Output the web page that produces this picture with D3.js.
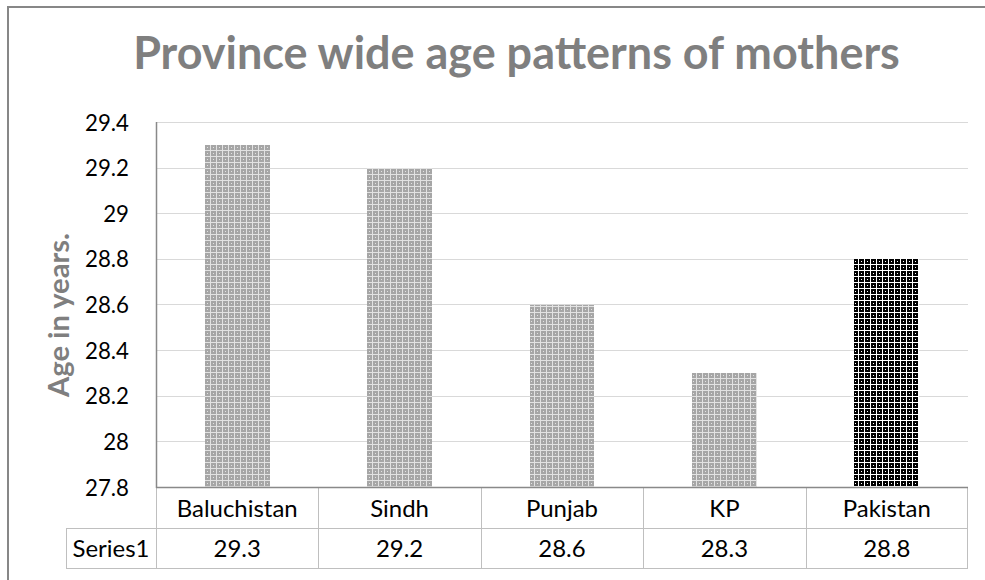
<!DOCTYPE html>
<html>
<head>
<meta charset="utf-8">
<script src="https://cdn.jsdelivr.net/npm/d3@7"></script>
<style>
  html, body { margin: 0; padding: 0; background: #fff; }
  svg { display: block; }
  text { font-family: Lato, "Open Sans", sans-serif; }
</style>
</head>
<body>
<svg id="chart" width="985" height="580"></svg>
<script>
const titleText = "Province wide age patterns of mothers";
const yAxisTitle = "Age in years.";
const seriesName = "Series1";
const categories = ["Baluchistan", "Sindh", "Punjab", "KP", "Pakistan"];
const values = [29.3, 29.2, 28.6, 28.3, 28.8];
const valueLabels = ["29.3", "29.2", "28.6", "28.3", "28.8"];
const tickValues = [27.8, 28, 28.2, 28.4, 28.6, 28.8, 29, 29.2, 29.4];
const tickLabels = ["27.8", "28", "28.2", "28.4", "28.6", "28.8", "29", "29.2", "29.4"];
const highlighted = ["Pakistan"];

const svg = d3.select("#chart");
const plot = { left: 156, right: 968, top: 122, bottom: 487 };
const table = { left: 66, row1: 528, row2: 568 };

// patterns
const defs = svg.append("defs");
function makePattern(id, bg, fg) {
  const p = defs.append("pattern").attr("id", id)
    .attr("patternUnits", "userSpaceOnUse").attr("width", 6).attr("height", 6);
  p.append("rect").attr("width", 6).attr("height", 6).attr("fill", bg);
  p.append("rect").attr("x", 0).attr("y", 0).attr("width", 6).attr("height", 1).attr("fill", fg);
  p.append("rect").attr("x", 0).attr("y", 0).attr("width", 1).attr("height", 6).attr("fill", fg);
  p.append("rect").attr("x", 3).attr("y", 3).attr("width", 1).attr("height", 1).attr("fill", fg);
  p.attr("shape-rendering", "crispEdges");
}
makePattern("patLight", "#a6a6a6", "#e2e2e2");
makePattern("patDark", "#000", "#ffffff");

// outer border (extends beyond the visible area)
svg.append("rect").attr("x", 8).attr("y", 7).attr("width", 1100).attr("height", 700)
  .attr("fill", "none").attr("stroke", "#878787").attr("stroke-width", 2);

const x = d3.scaleBand().domain(categories).range([plot.left, plot.right])
  .paddingInner(0.6).paddingOuter(0.3);
const step = x.step();
const y = d3.scaleLinear().domain([tickValues[0], tickValues[tickValues.length - 1]])
  .range([plot.bottom, plot.top]);

function fit(sel, target) {
  const w = sel.node().getComputedTextLength();
  const fs = parseFloat(sel.attr("font-size"));
  sel.attr("font-size", fs * target / w);
  return fs * target / w;
}

// gridlines
svg.append("g").selectAll("line").data(tickValues.slice(1)).join("line")
  .attr("x1", plot.left).attr("x2", plot.right)
  .attr("y1", d => Math.round(y(d)) + 0.5).attr("y2", d => Math.round(y(d)) + 0.5)
  .attr("stroke", "#d9d9d9").attr("stroke-width", 1);

// y axis labels via d3 axis
const yAxis = d3.axisLeft(y).tickValues(tickValues)
  .tickFormat((d, i) => tickLabels[i]).tickSize(0).tickPadding(0);
const gy = svg.append("g").attr("transform", `translate(129,0)`).call(yAxis);
gy.select(".domain").remove();
gy.selectAll("text").attr("font-size", 24).attr("fill", "#000")
  .attr("font-family", "Lato, 'Open Sans', sans-serif").attr("dy", "0.36em");
const tickFs = fit(gy.selectAll("text").filter((d, i) => i === tickValues.length - 1), 44);
gy.selectAll("text").attr("font-size", tickFs);

// bars
svg.append("g").selectAll("rect").data(categories).join("rect")
  .attr("x", d => x(d)).attr("width", x.bandwidth())
  .attr("y", (d, i) => y(values[i])).attr("height", (d, i) => y(tickValues[0]) - y(values[i]))
  .attr("fill", d => highlighted.includes(d) ? "url(#patDark)" : "url(#patLight)")
  .attr("shape-rendering", "crispEdges");

// table lines
const tl = svg.append("g").attr("stroke", "#bfbfbf").attr("stroke-width", 1).attr("shape-rendering", "crispEdges");
[table.row1, table.row2].forEach(yy => {
  tl.append("line").attr("x1", table.left).attr("x2", plot.right).attr("y1", yy + 0.5).attr("y2", yy + 0.5);
});
tl.append("line").attr("x1", table.left + 0.5).attr("x2", table.left + 0.5).attr("y1", table.row1).attr("y2", table.row2);
d3.range(categories.length + 1).forEach(i => {
  const xx = Math.round(plot.left + i * step) - (i === categories.length ? 1 : 0) + 0.5;
  tl.append("line").attr("x1", xx).attr("x2", xx).attr("y1", plot.bottom).attr("y2", table.row2 + 1);
});

// axes lines
svg.append("line").attr("x1", plot.left + 0.5).attr("x2", plot.left + 0.5)
  .attr("y1", plot.top).attr("y2", plot.bottom + 1).attr("stroke", "#898989").attr("stroke-width", 1.5);
svg.append("line").attr("x1", plot.left).attr("x2", plot.right)
  .attr("y1", plot.bottom + 0.5).attr("y2", plot.bottom + 0.5).attr("stroke", "#898989").attr("stroke-width", 1.5);

// table text
const sLabel = svg.append("text").attr("x", (table.left + plot.left) / 2).attr("y", (table.row1 + table.row2) / 2)
  .attr("text-anchor", "middle").attr("dy", "0.36em").attr("font-size", 20).attr("fill", "#000").text(seriesName);
const tableFs = fit(sLabel, 77);

svg.append("g").selectAll("text").data(categories).join("text")
  .attr("x", d => x(d) + x.bandwidth() / 2).attr("y", (plot.bottom + table.row1) / 2 + 1)
  .attr("text-anchor", "middle").attr("dy", "0.36em").attr("font-size", tableFs).attr("fill", "#000")
  .text(d => d);
svg.append("g").selectAll("text").data(categories).join("text")
  .attr("x", d => x(d) + x.bandwidth() / 2).attr("y", (table.row1 + table.row2) / 2)
  .attr("text-anchor", "middle").attr("dy", "0.36em").attr("font-size", tableFs).attr("fill", "#000")
  .text((d, i) => valueLabels[i]);

// title
const t = svg.append("text").attr("x", 516.5).attr("y", 69).attr("text-anchor", "middle")
  .attr("font-size", 40).attr("font-weight", "bold").attr("fill", "#7f7f7f").text(titleText);
fit(t, 767);

// y axis title
const yt = svg.append("text").attr("transform", "translate(58,315) rotate(-90)")
  .attr("text-anchor", "middle").attr("dy", "0.36em").attr("font-size", 18).attr("font-weight", "bold")
  .attr("fill", "#7f7f7f").text(yAxisTitle);
fit(yt, 164);
</script>
</body>
</html>
